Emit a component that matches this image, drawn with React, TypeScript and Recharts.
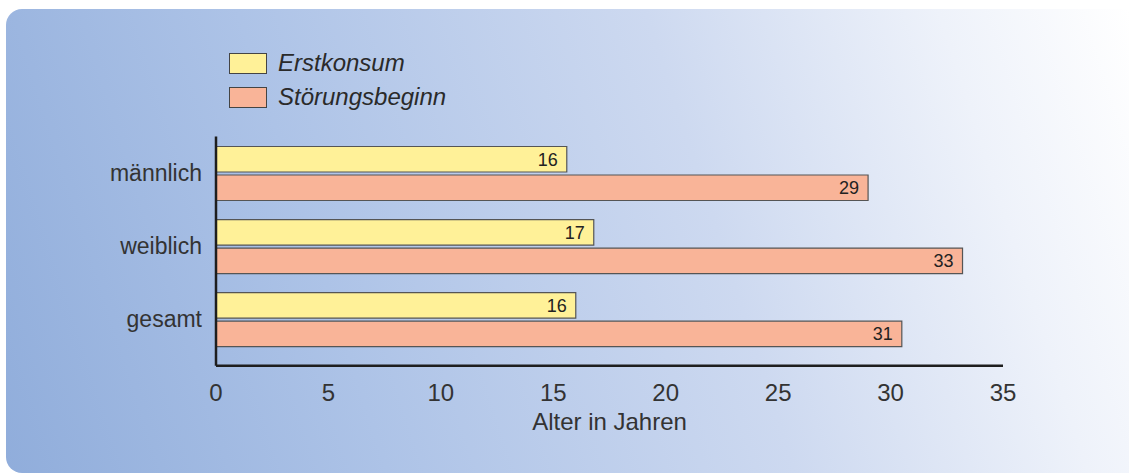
import React from 'react';
import { BarChart, Bar, XAxis, YAxis, LabelList } from 'recharts';

const categories = ['männlich', 'weiblich', 'gesamt'];
const erstkonsum = [15.6, 16.8, 16.0];
const stoerungsbeginn = [29.0, 33.2, 30.5];
const xTicks = [0, 5, 10, 15, 20, 25, 30, 35];

const data = categories.map((name, i) => ({
  name,
  erstkonsum: erstkonsum[i],
  stoerungsbeginn: stoerungsbeginn[i],
}));

const FONT = '"Liberation Sans", Arial, Helvetica, sans-serif';

const legendItems = [
  { label: 'Erstkonsum', color: '#fff198' },
  { label: 'Störungsbeginn', color: '#f9b498' },
];

// legend drawn as plain html so it doesn't eat into the plot margins
const LegendBox = () => (
  <div style={{ position: 'absolute', left: 223, top: 37, fontFamily: FONT }}>
    {legendItems.map(item => (
      <div key={item.label} style={{ display: 'flex', alignItems: 'center', height: 34 }}>
        <div style={{ width: 36, height: 19, background: item.color, border: '1.5px solid #444' }} />
        <span style={{ marginLeft: 11, fontSize: 24, fontStyle: 'italic', color: '#2a2a2a' }}>{item.label}</span>
      </div>
    ))}
  </div>
);

const App: React.FC = () => {
  return (
    <div
      style={{
        position: 'absolute',
        left: 6,
        top: 9,
        width: 1123,
        height: 464,
        borderRadius: '16px 0 0 16px',
        background: 'linear-gradient(72deg, #90addb 0%, #adc3e7 30%, #cdd9f0 62%, #eef2fa 85%, #ffffff 100%)',
        overflow: 'hidden',
      }}
    >
      <LegendBox />
      <BarChart
        width={1123}
        height={464}
        data={data}
        layout="vertical"
        margin={{ top: 127.5, right: 126, bottom: 47.3, left: 0 }}
        barSize={25.5}
        barGap={3}
      >
        <XAxis
          type="number"
          domain={[0, 35]}
          ticks={xTicks}
          interval={0}
          height={60}
          tickLine={false}
          tickSize={0}
          tickMargin={18}
          axisLine={{ stroke: '#1e1e1e', strokeWidth: 2.5 }}
          tick={{ fontSize: 24, fill: '#333', fontFamily: FONT }}
          label={{ value: 'Alter in Jahren', position: 'bottom', offset: -13, fontSize: 24, fill: '#333', fontFamily: FONT }}
        />
        <YAxis
          type="category"
          dataKey="name"
          width={210}
          padding={{ top: 0, bottom: 10 }}
          tickLine={false}
          tickSize={0}
          tickMargin={14}
          axisLine={{ stroke: '#1e1e1e', strokeWidth: 2.5 }}
          tick={{ fontSize: 23, fill: '#333', fontFamily: FONT }}
        />
        <Bar dataKey="erstkonsum" name="Erstkonsum" fill="#fff198" stroke="#555" strokeWidth={1.2} isAnimationActive={false}>
          <LabelList
            dataKey="erstkonsum"
            position="insideRight"
            offset={9}
            formatter={(v: number) => Math.round(v)}
            style={{ fontSize: 18, fill: '#222', fontFamily: FONT }}
          />
        </Bar>
        <Bar dataKey="stoerungsbeginn" name="Störungsbeginn" fill="#f9b498" stroke="#555" strokeWidth={1.2} isAnimationActive={false}>
          <LabelList
            dataKey="stoerungsbeginn"
            position="insideRight"
            offset={9}
            formatter={(v: number) => Math.round(v)}
            style={{ fontSize: 18, fill: '#222', fontFamily: FONT }}
          />
        </Bar>
      </BarChart>
    </div>
  );
};

export default App;
